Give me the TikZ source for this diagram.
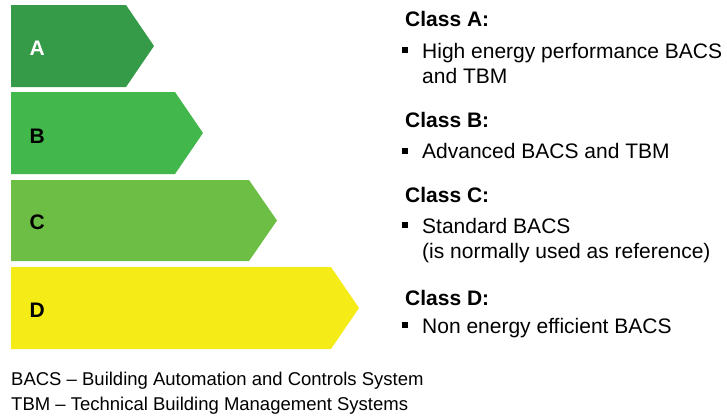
\documentclass[tikz,border=0pt]{standalone}
\usepackage{fontspec}
\setmainfont{Liberation Sans}
\usepackage{xcolor}
\definecolor{classA}{HTML}{359B48}
\definecolor{classB}{HTML}{42B74C}
\definecolor{classC}{HTML}{6DBE45}
\definecolor{classD}{HTML}{F5EB17}
\newcommand{\bigtext}{\fontsize{21}{25}\selectfont}
\newcommand{\smalltext}{\fontsize{18.5}{25}\selectfont}
% bar: colour, top, bottom, right end of the box
\newcommand{\classbar}[4]{\fill[#1] (11,#2) -- (#4,#2) -- ++(28,{(#3-#2)/2}) -- (#4,#3) -- (11,#3) -- cycle;}

\begin{document}
\begin{tikzpicture}[x=1pt,y=-1pt,
  letter/.style={anchor=base west,inner sep=0pt,font=\bigtext\bfseries},
  heading/.style={anchor=base west,inner sep=0pt,font=\bigtext\bfseries},
  item/.style={anchor=base west,inner sep=0pt,font=\bigtext},
  legend/.style={anchor=base west,inner sep=0pt,font=\smalltext}]
\useasboundingbox (0,0) rectangle (727,416);
\classbar{classA}{5}{87}{126}
\classbar{classB}{92}{174}{175}
\classbar{classC}{180}{261}{249}
\classbar{classD}{267}{349}{331}
\node[letter,white] (la) at (29.5,55) {A};
\node[letter] (lb) at (29.5,143) {B};
\node[letter] (lc) at (29.5,229) {C};
\node[letter] (ld) at (29.5,317) {D};
% class descriptions
\node[heading] (ha) at (405,26) {Class A:};
\fill (402,47) rectangle (408,53);
\node[item] (ta) at (422,58) {High energy performance BACS};
\node[item] (ta2) at (422,83) {and TBM};
\node[heading] (hb) at (405,127) {Class B:};
\fill (402,148) rectangle (408,154);
\node[item] (tb) at (422,158) {Advanced BACS and TBM};
\node[heading] (hc) at (405,202) {Class C:};
\fill (402,222) rectangle (408,228);
\node[item] (tc) at (422,233) {Standard BACS};
\node[item] (tc2) at (422,258) {(is normally used as reference)};
\node[heading] (hd) at (405,305) {Class D:};
\fill (402,322) rectangle (408,328);
\node[item] (td) at (422,333) {Non energy efficient BACS};
% abbreviations
\node[legend] (bacs) at (11,385) {BACS – Building Automation and Controls System};
\node[legend] (tbm) at (11,410) {TBM – Technical Building Management Systems};
\end{tikzpicture}
\end{document}
